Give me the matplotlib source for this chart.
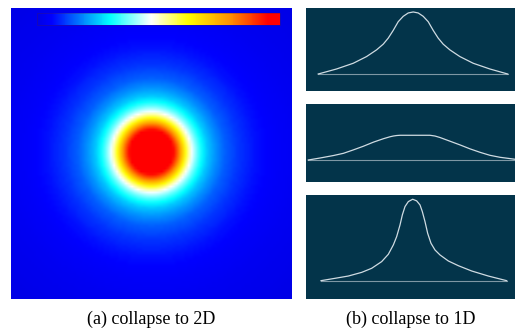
import numpy as np
import matplotlib
matplotlib.use('Agg')
import matplotlib.pyplot as plt
from matplotlib.colors import LinearSegmentedColormap

# radial intensity profile of the 2D map (radius in px, value)
radius_px = [0, 15, 22, 27, 32, 36, 40, 45, 50, 56, 64, 74, 88, 105, 125, 150, 180, 210]
intensity = [1.0, 1.0, 0.95, 0.83, 0.68, 0.56, 0.47, 0.38, 0.31, 0.25, 0.20, 0.15,
             0.11, 0.075, 0.05, 0.03, 0.015, 0.0]

# 1D collapsed profiles (x as fraction of panel width, height relative to peak)
p1_x = [0.0585, 0.1462, 0.2259, 0.2897, 0.3376, 0.3695, 0.3934, 0.4173, 0.4412,
        0.4652, 0.4891, 0.513, 0.5369, 0.5608, 0.5848, 0.6087, 0.6326, 0.6565,
        0.6884, 0.7363, 0.8001, 0.8798, 0.965]
p1_y = [0.0, 0.081, 0.173, 0.281, 0.389, 0.481, 0.578, 0.703, 0.843, 0.930, 0.984,
        1.0, 0.984, 0.930, 0.843, 0.703, 0.578, 0.481, 0.389, 0.281, 0.173, 0.081, 0.0]

p2_x = [0.011, 0.067, 0.131, 0.179, 0.227, 0.274, 0.322, 0.370, 0.402, 0.418, 0.434,
        0.450, 0.593, 0.617, 0.641, 0.689, 0.737, 0.785, 0.833, 0.880, 0.928, 1.0]
p2_y = [0.0, 0.08, 0.18, 0.27, 0.41, 0.555, 0.72, 0.86, 0.94, 0.97, 0.99,
        1.0, 1.0, 0.97, 0.91, 0.76, 0.61, 0.45, 0.31, 0.19, 0.11, 0.03]

p3_x = [0.0718, 0.1388, 0.2025, 0.2664, 0.3142, 0.3620, 0.3939, 0.4179, 0.4338,
        0.4498, 0.4609, 0.4737, 0.4896, 0.5104, 0.5295, 0.5455, 0.5566, 0.5694,
        0.5821, 0.5981, 0.6172, 0.6411, 0.6810, 0.7289, 0.7927, 0.8724, 0.9601]
p3_y = [0.0, 0.029, 0.057, 0.102, 0.152, 0.234, 0.324, 0.439, 0.541, 0.684, 0.807,
        0.910, 0.971, 1.0, 0.980, 0.930, 0.848, 0.725, 0.582, 0.459, 0.377, 0.316,
        0.242, 0.184, 0.119, 0.057, 0.0]

captions = ['(a) collapse to 2D', '(b) collapse to 1D']

cmap = LinearSegmentedColormap.from_list('blob', [
    (0.0, (0, 0, 0.9)), (0.06, (0, 0, 1)), (0.30, (0, 1, 1)), (0.47, (1, 1, 1)),
    (0.62, (1, 1, 0)), (0.80, (1, 0.55, 0)), (0.95, (1, 0, 0)), (1.0, (1, 0, 0))])

fig = plt.figure(figsize=(5.16, 3.31), dpi=100)

# left: 2D map
ax = fig.add_axes([11/516, 1 - 299/331, 281/516, 291/331])
xs = np.arange(0, 281, 3) + 1.5
ys = np.arange(0, 291, 3) + 1.5
X, Y = np.meshgrid(xs, ys)
R = np.hypot(X - 141, Y - 147)
field = np.interp(R, radius_px, intensity)
im = ax.imshow(field, cmap=cmap, vmin=0, vmax=1, extent=[0, 281, 0, 291],
               origin='lower', aspect='auto', interpolation='bilinear')
ax.set_axis_off()

cax = fig.add_axes([37/516, 1 - 25/331, 243/516, 12/331])
cb = fig.colorbar(im, cax=cax, orientation='horizontal')
cb.set_ticks([])
cb.outline.set_linewidth(0.6)
cb.outline.set_edgecolor((0.3, 0.1, 0.3, 0.35))

# right: 1D profiles
bg = '#03344a'
line_c = '#cfdbe2'
base_c = '#7e97a4'
panels = [
    (p1_x, p1_y, [8, 91], (-0.274, 1.064)),
    (p2_x, p2_y, [104, 182], (-0.89, 2.265)),
    (p3_x, p3_y, [195, 299], (-0.225, 1.052)),
]
for px, py, (top, bot), ylim in panels:
    a = fig.add_axes([306/516, 1 - bot/331, 209/516, (bot - top)/331])
    a.set_facecolor(bg)
    a.plot([px[0], px[-1]], [0, 0], color=base_c, lw=0.8)
    a.plot(px, py, color=line_c, lw=0.9)
    a.set_xlim(0, 1)
    a.set_ylim(*ylim)
    a.set_xticks([])
    a.set_yticks([])
    for s in a.spines.values():
        s.set_visible(False)

fig.text(151/516, 1 - 319/331, captions[0], ha='center', va='center',
         family='Liberation Serif', fontsize=13)
fig.text(411/516, 1 - 319/331, captions[1], ha='center', va='center',
         family='Liberation Serif', fontsize=13)

fig.savefig('out.png', dpi=100)
